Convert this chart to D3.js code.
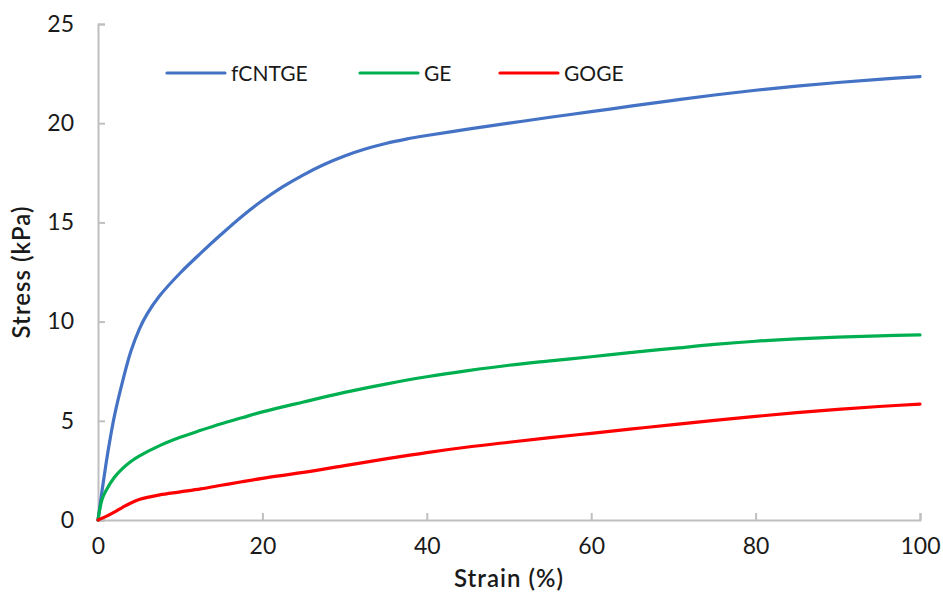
<!DOCTYPE html>
<html><head><meta charset="utf-8">
<script src="https://cdn.jsdelivr.net/npm/d3@7"></script>
<style>body{margin:0;background:#fff}svg{display:block}</style>
</head><body><svg id="c" width="943" height="593"></svg>
<script>
const seriesNames = ["fCNTGE", "GE", "GOGE"];
const seriesColors = ["#4472C4", "#00B050", "#FF0000"];
const strainBlue = [0,0.5,1,1.5,2,3,4,5,6,7.5,10,12.5,15,17.5,20,22.5,25,27.5,30,32.5,35,37.5,40,45,50,55,60,65,70,75,80,85,90,95,100];
const stressBlue = [0,1.5,2.9,4.15,5.25,7.0,8.5,9.6,10.4,11.3,12.45,13.45,14.4,15.3,16.1,16.8,17.4,17.92,18.35,18.7,18.98,19.2,19.38,19.7,20.0,20.3,20.58,20.87,21.15,21.42,21.66,21.87,22.05,22.21,22.35];
const strainGreen = [0,0.5,1,2,3,4,5,7.5,10,12.5,15,17.5,20,25,30,35,40,45,50,55,60,65,70,75,80,85,90,95,100];
const stressGreen = [0,1.05,1.5,2.15,2.6,2.95,3.22,3.75,4.17,4.52,4.85,5.15,5.45,5.95,6.43,6.85,7.22,7.53,7.8,8.02,8.23,8.45,8.65,8.85,9.01,9.13,9.22,9.28,9.33];
const strainRed = [0,1,2,3,4,5,6,7.5,10,12.5,15,17.5,20,25,30,35,40,45,50,55,60,65,70,75,80,85,90,95,100];
const stressRed = [0,0.18,0.4,0.64,0.86,1.03,1.14,1.27,1.42,1.57,1.75,1.93,2.1,2.4,2.74,3.08,3.4,3.68,3.92,4.15,4.37,4.59,4.81,5.02,5.22,5.41,5.58,5.72,5.84];
const xTicks = [0,20,40,60,80,100];
const yTicks = [0,5,10,15,20,25];

const series = [
  {name: seriesNames[0], color: seriesColors[0], xs: strainBlue, ys: stressBlue},
  {name: seriesNames[1], color: seriesColors[1], xs: strainGreen, ys: stressGreen},
  {name: seriesNames[2], color: seriesColors[2], xs: strainRed, ys: stressRed}
];

const svg = d3.select("#c");
const x = d3.scaleLinear().domain([0,100]).range([98,920]);
const y = d3.scaleLinear().domain([0,25]).range([520,24]);
const font = "Lato, 'Open Sans', sans-serif";
const axisColor = "#BFBFBF";
const textColor = "#1a1a1a";

// x axis
const gx = svg.append("g").attr("transform", `translate(0,${y(0)})`)
  .call(d3.axisBottom(x).tickValues(xTicks).tickSize(-7).tickPadding(20).tickFormat(d3.format("d")));
gx.select(".domain").attr("stroke", axisColor).attr("stroke-width", 2);
gx.selectAll(".tick line").attr("stroke", axisColor).attr("stroke-width", 2);
gx.selectAll(".tick text").attr("font-family", font).attr("font-size", 23).attr("fill", textColor).attr("dy", "0.6em");

// y axis
const gy = svg.append("g").attr("transform", `translate(${x(0)},0)`)
  .call(d3.axisLeft(y).tickValues(yTicks).tickSize(-7).tickPadding(24).tickFormat(d3.format("d")));
gy.select(".domain").attr("stroke", axisColor).attr("stroke-width", 2);
gy.selectAll(".tick line").attr("stroke", axisColor).attr("stroke-width", 2);
gy.selectAll(".tick text").attr("font-family", font).attr("font-size", 23).attr("fill", textColor);

// lines
const line = d3.line().x(d => x(d[0])).y(d => y(d[1])).curve(d3.curveCatmullRom.alpha(0.5));
series.forEach(s => {
  const pts = s.xs.map((v,i) => [v, s.ys[i]]);
  svg.append("path").datum(pts).attr("d", line)
    .attr("fill", "none").attr("stroke", s.color).attr("stroke-width", 3.2)
    .attr("stroke-linecap", "round").attr("stroke-linejoin", "round");
});

// axis titles
svg.append("text").attr("x", 509).attr("y", 587).attr("text-anchor", "middle")
  .attr("font-family", font).attr("font-size", 24).attr("font-weight", 600).attr("letter-spacing", 1)
  .attr("fill", textColor).text("Strain (%)");
svg.append("text").attr("transform", "translate(30,272) rotate(-90)").attr("text-anchor", "middle")
  .attr("font-family", font).attr("font-size", 24).attr("font-weight", 600).attr("letter-spacing", 1)
  .attr("fill", textColor).text("Stress (kPa)");

// legend
const legX = [167, 360, 500];
series.forEach((s,i) => {
  const g = svg.append("g").attr("transform", `translate(${legX[i]},73)`);
  g.append("line").attr("x1", 0).attr("x2", 58).attr("y1", 0).attr("y2", 0)
    .attr("stroke", s.color).attr("stroke-width", 3.2).attr("stroke-linecap", "round");
  g.append("text").attr("x", 64).attr("y", 0).attr("dy", "0.36em")
    .attr("font-family", font).attr("font-size", 21).attr("fill", textColor).text(s.name);
});
</script></body></html>
